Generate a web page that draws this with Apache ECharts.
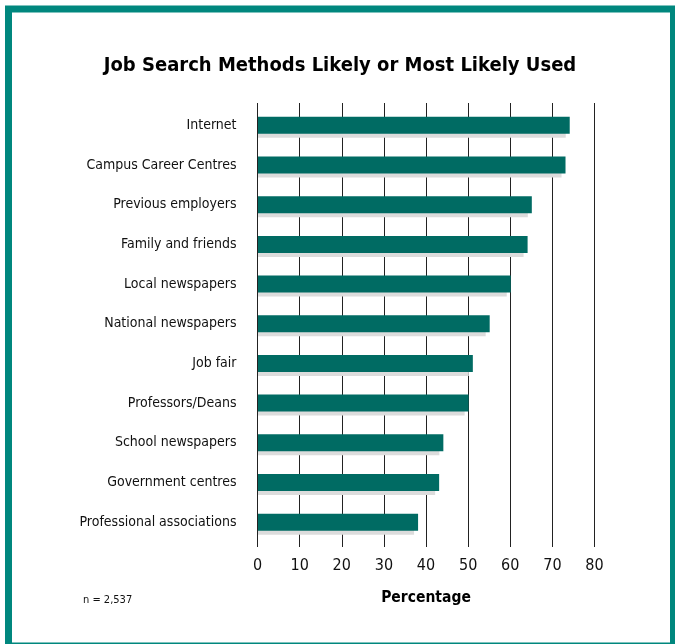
<!DOCTYPE html>
<html>
<head>
<meta charset="utf-8">
<script src="https://cdn.jsdelivr.net/npm/echarts@6/dist/echarts.min.js"></script>
<style>
  html, body { margin: 0; padding: 0; background: #ffffff; }
  #chart { width: 675px; height: 644px; }
</style>
</head>
<body>
<div id="chart"></div>
<script>
// Survey answers, top to bottom
const methods = [
  'Internet',
  'Campus Career Centres',
  'Previous employers',
  'Family and friends',
  'Local newspapers',
  'National newspapers',
  'Job fair',
  'Professors/Deans',
  'School newspapers',
  'Government centres',
  'Professional associations'
];
const percentages = [74, 73, 65, 64, 60, 55, 51, 50, 44, 43, 38];
const tickValues = [0, 10, 20, 30, 40, 50, 60, 70, 80];

const TEAL = '#006b63';
const FRAME = '#00877e';
const SHADOW = '#dcdcdc';
const NARROW = '"DejaVu Sans Condensed", "Liberation Sans Narrow", "Liberation Sans", sans-serif';

const chart = echarts.init(document.getElementById('chart'), null, { renderer: 'canvas' });

function renderBar(params, api) {
  const v = api.value(0);
  const idx = api.value(1);
  const start = api.coord([0, idx]);
  const end = api.coord([v, idx]);
  const h = 17;
  const x0 = start[0] + 0.5;
  const w = end[0] - start[0];
  const y0 = end[1] - h / 2;
  return {
    type: 'group',
    children: [
      { type: 'rect', shape: { x: x0, y: y0 + 4, width: w - 4, height: h }, style: { fill: SHADOW } },
      { type: 'rect', shape: { x: x0, y: y0, width: w, height: h }, style: { fill: TEAL } }
    ]
  };
}

chart.setOption({
  animation: false,
  backgroundColor: '#ffffff',
  graphic: [
    {
      type: 'rect',
      shape: { x: 8.5, y: 9, width: 665, height: 637 },
      style: { fill: 'none', stroke: FRAME, lineWidth: 7 },
      z: 10
    },
    {
      type: 'text',
      x: 340, y: 66,
      style: {
        text: 'Job Search Methods Likely or Most Likely Used',
        font: 'bold 20px ' + NARROW,
        fill: '#000000',
        textAlign: 'center',
        textVerticalAlign: 'middle'
      }
    },
    {
      type: 'text',
      x: 83, y: 600,
      style: {
        text: 'n = 2,537',
        font: '11px ' + NARROW,
        fill: '#111111',
        textAlign: 'left',
        textVerticalAlign: 'middle'
      }
    }
  ],
  grid: [
    // frame for the vertical rules and tick labels
    { left: 257.5, right: 80.5, top: 103, bottom: 97 },
    // frame for the bars
    { left: 257.5, right: 80.5, top: 105.5, bottom: 102 }
  ],
  xAxis: [
    {
      gridIndex: 0,
      type: 'value',
      min: 0, max: 80, interval: 10,
      axisLine: { show: false },
      axisTick: { show: false },
      axisLabel: {
        margin: 11,
        fontFamily: NARROW,
        fontSize: 16,
        color: '#111111',
        customValues: tickValues
      },
      splitLine: { show: true, lineStyle: { color: '#222222', width: 1 } },
      name: 'Percentage',
      nameLocation: 'middle',
      nameGap: 43,
      nameTextStyle: { fontFamily: NARROW, fontWeight: 'bold', fontSize: 15.5, color: '#000000' }
    },
    {
      gridIndex: 1,
      type: 'value',
      min: 0, max: 80,
      show: false
    }
  ],
  yAxis: [
    {
      gridIndex: 0,
      type: 'value',
      show: false
    },
    {
      gridIndex: 1,
      type: 'category',
      data: methods,
      inverse: true,
      axisLine: { show: false },
      axisTick: { show: false },
      splitLine: { show: false },
      axisLabel: {
        margin: 21,
        fontFamily: NARROW,
        fontSize: 14,
        color: '#111111'
      }
    }
  ],
  series: [
    {
      type: 'custom',
      xAxisIndex: 1,
      yAxisIndex: 1,
      renderItem: renderBar,
      encode: { x: 0, y: 1 },
      data: percentages.map((v, i) => [v, i]),
      z: 5
    }
  ]
});
</script>
</body>
</html>
